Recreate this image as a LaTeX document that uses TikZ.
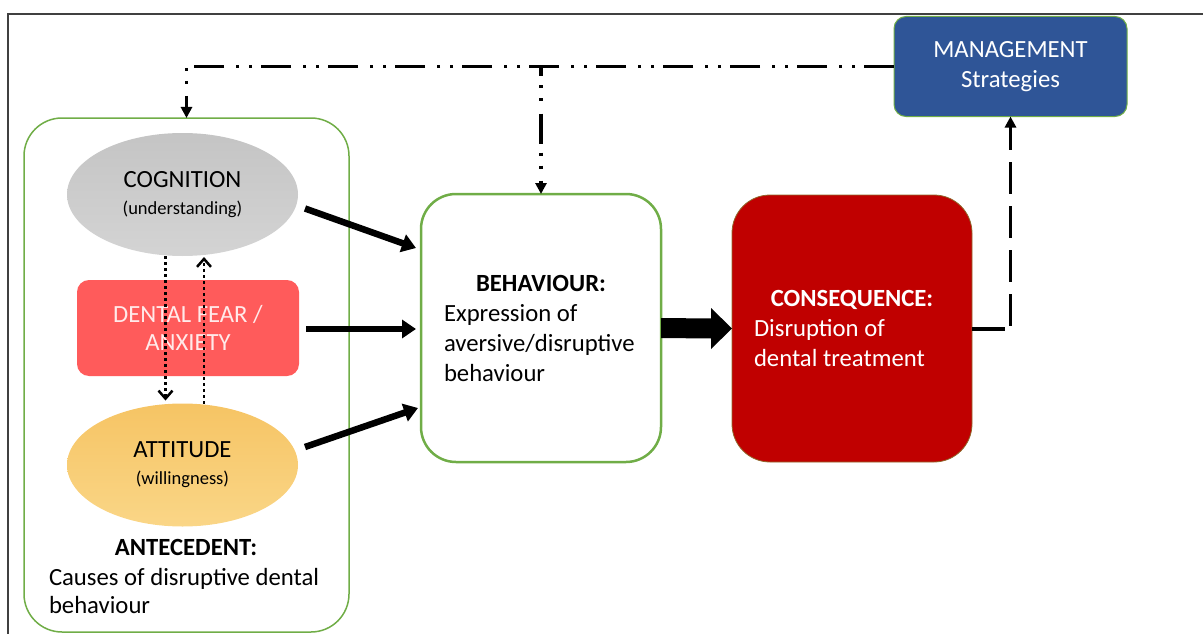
\documentclass[tikz,border=0pt]{standalone}
\usepackage{fontspec}
\setmainfont{Carlito}
\usetikzlibrary{shapes.geometric,arrows.meta,calc}
\definecolor{grn}{HTML}{70AD47}
\definecolor{fearred}{HTML}{FF5B5B}
\definecolor{conred}{HTML}{C00000}
\definecolor{mgblue}{HTML}{2F5597}
\definecolor{framec}{HTML}{404040}
\definecolor{feartxt}{HTML}{FFEAEA}
\newcommand\txtA{\fontsize{24.7}{30}\selectfont}
\newcommand\txtB{\fontsize{18.5}{22}\selectfont}
\tikzset{
  every node/.style={font=\txtA, inner sep=0pt, outer sep=0pt},
  thickarrow/.style={line width=6.5pt, -{Triangle[length=14pt,width=18pt]}},
  dashdotline/.style={line width=3.5pt, dash pattern=on 30pt off 9pt on 3pt off 10pt on 3pt off 12pt, -{Triangle[length=11pt,width=11pt]}},
  dottedarrow/.style={line width=2.5pt, dash pattern=on 2.5pt off 3.5pt, -{Straight Barb[length=8pt,width=14pt,line width=2.5pt]}},
  longdash/.style={line width=3.5pt, dash pattern=on 32pt off 12pt, -{Triangle[length=11pt,width=11pt]}},
  ellipsenode/.style={ellipse, minimum width=231pt, minimum height=123pt, align=center},
}
\begin{document}
\begin{tikzpicture}[x=1pt,y=-1pt]
\useasboundingbox (0,0) rectangle (1203,634);
% frame
\draw[framec, line width=2pt] (1203,14) -- (8,14) -- (8,634);

% antecedent container
\node[draw=grn, line width=1.5pt, rounded corners=38pt, minimum width=325pt, minimum height=514pt] (antbox) at (186.5,375) {};

\node[ellipsenode, top color=black!23, bottom color=black!17] (cog) at (182.5,194.5)
  {COGNITION\\[-3pt]{\txtB (understanding)}};
\node[fill=fearred, rounded corners=12pt, minimum width=222pt, minimum height=96pt, align=center, text=feartxt] (fear) at (188,328)
  {DENTAL FEAR /\\[-2pt]ANXIETY};
\node[ellipsenode, top color={rgb,255:red,246;green,196;blue,100}, bottom color={rgb,255:red,250;green,214;blue,135}] (att) at (182.5,465)
  {ATTITUDE\\[-3pt]{\txtB (willingness)}};
\node (antt) at (186,547) {\textbf{ANTECEDENT:}};
\node[anchor=west, align=left, font=\fontsize{24.7}{28}\selectfont] (antb) at (49,591) {Causes of disruptive dental\\behaviour};

% behaviour
\node[draw=grn, line width=2.5pt, rounded corners=35pt, minimum width=240pt, minimum height=268pt, align=left] (beh) at (541,328)
  {\makebox[194pt]{\textbf{BEHAVIOUR:}}\\Expression of\\aversive/disruptive\\behaviour};

% consequence
\node[fill=conred, draw=grn!60!conred, line width=0.8pt, rounded corners=38pt, minimum width=240pt, minimum height=267pt, align=left, text=white] (cons) at (852,328.5)
  {\makebox[196pt]{\textbf{CONSEQUENCE:}}\\Disruption of\\dental treatment};

% management
\node[fill=mgblue, draw=grn, line width=1pt, rounded corners=12pt, minimum width=233pt, minimum height=100pt, align=center, text=white] (mgmt) at (1010.5,66.5)
  {MANAGEMENT\\Strategies};

% thick arrows into behaviour
\draw[thickarrow] ($(cog.east)+(7,14)$) -- ($(beh.west)+(-5,-80)$);
\draw[thickarrow] ($(fear.east)+(7,1)$) -- ($(beh.west)+(-5,1)$);
\draw[thickarrow] ($(att.east)+(7,-18)$) -- ($(beh.west)+(-3,80)$);

% big block arrow behaviour -> consequence
\fill ($(beh.east)+(0,-10)$) -- ($(cons.west)+(-21,-10)$) -- ($(cons.west)+(-21,-20.5)$)
  -- (cons.west) -- ($(cons.west)+(-21,20.5)$) -- ($(cons.west)+(-21,10)$)
  -- ($(beh.east)+(0,10)$) -- cycle;

% consequence -> management
\coordinate (c1) at (cons.east -| mgmt.south);
\draw[line width=4pt] (cons.east) -- ($(c1)+(-6,0)$);
\draw[longdash] ($(c1)+(0,-3)$) -- (mgmt.south);

% management -> cognition / behaviour
\coordinate (j2) at (antbox.north |- mgmt.west);
\coordinate (j1) at (beh.north |- mgmt.west);
\draw[dashdotline] (mgmt.west) -- (j2) -- (antbox.north);
\draw[dashdotline, dash phase=20pt] (j1) -- (beh.north);

% dotted arrows between cognition and attitude
\draw[dottedarrow] ($(cog.south)+(-17,0)$) -- ($(att.north)+(-17,-3)$);
\draw[dottedarrow] ($(att.north)+(21.5,0)$) -- ($(cog.south)+(21.5,1)$);
\end{tikzpicture}
\end{document}
